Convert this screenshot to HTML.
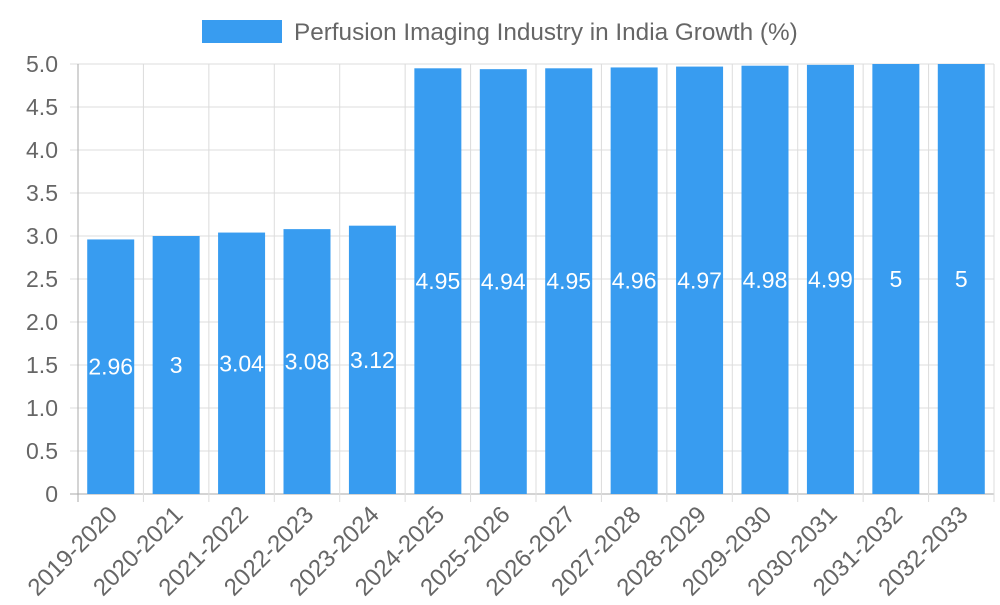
<!DOCTYPE html>
<html><head><meta charset="utf-8"><style>
body{margin:0;background:#fff;font-family:"Liberation Sans",sans-serif}
</style></head><body>
<svg id="c" width="1000" height="600" xmlns="http://www.w3.org/2000/svg">
<g>
<rect x="202" y="20" width="80" height="23" fill="#389cf0"/>
<text x="294" y="40" font-size="24.3" fill="#666" font-family="Liberation Sans, sans-serif">Perfusion Imaging Industry in India Growth (%)</text>
</g>
</svg>
<script>
const categories=["2019-2020","2020-2021","2021-2022","2022-2023","2023-2024","2024-2025","2025-2026","2026-2027","2027-2028","2028-2029","2029-2030","2030-2031","2031-2032","2032-2033"];
const values=[2.96,3,3.04,3.08,3.12,4.95,4.94,4.95,4.96,4.97,4.98,4.99,5,5];
const yTicks=[0,0.5,1.0,1.5,2.0,2.5,3.0,3.5,4.0,4.5,5.0];
const yTickLabels=["0","0.5","1.0","1.5","2.0","2.5","3.0","3.5","4.0","4.5","5.0"];
const svg=document.getElementById('c');const NS="http://www.w3.org/2000/svg";
const L=78,R=994,T=64,B=494,yMax=5;
const band=(R-L)/categories.length;
const y=v=>B-(v/yMax)*(B-T);
const x=i=>L+i*band;
function mk(t,a,p){const e=document.createElementNS(NS,t);for(const k in a)e.setAttribute(k,a[k]);(p||svg).appendChild(e);return e;}
const grid=mk('g',{});


yTicks.forEach((t,i)=>{
 const l=mk('line',{x1:L-8,x2:R,y1:y(t),y2:y(t),stroke:i==0?'#aaa':'#dcdcdc','stroke-width':1},grid);
 
 
 const tx=mk('text',{x:L-20,y:y(t)+8,'text-anchor':'end','font-size':23,fill:'#666'});
 tx.textContent=yTickLabels[i];
 
 
});
for(let i=0;i<=categories.length;i++){
 const l=mk('line',{x1:x(i),x2:x(i),y1:T,y2:B+8,stroke:i==0?'#aaa':'#dcdcdc','stroke-width':1},grid);
 
 
}
categories.forEach((c,i)=>{
 const cx=x(i)+band/2,bw=47;
 const r=mk('rect',{x:cx-bw/2,y:y(values[i]),width:bw,height:B-y(values[i]),fill:'#389cf0'});
 
 
 const vt=mk('text',{x:cx,y:(y(values[i])+B)/2+8,'text-anchor':'middle','font-size':23,fill:'#fff'});
 vt.textContent=String(values[i]);
 
 
 const xt=mk('text',{x:0,y:0,'text-anchor':'end','font-size':24,fill:'#666',transform:`translate(${cx+8},${B+22}) rotate(-45)`});
 xt.textContent=c;
 
 
});
</script>
</body></html>
